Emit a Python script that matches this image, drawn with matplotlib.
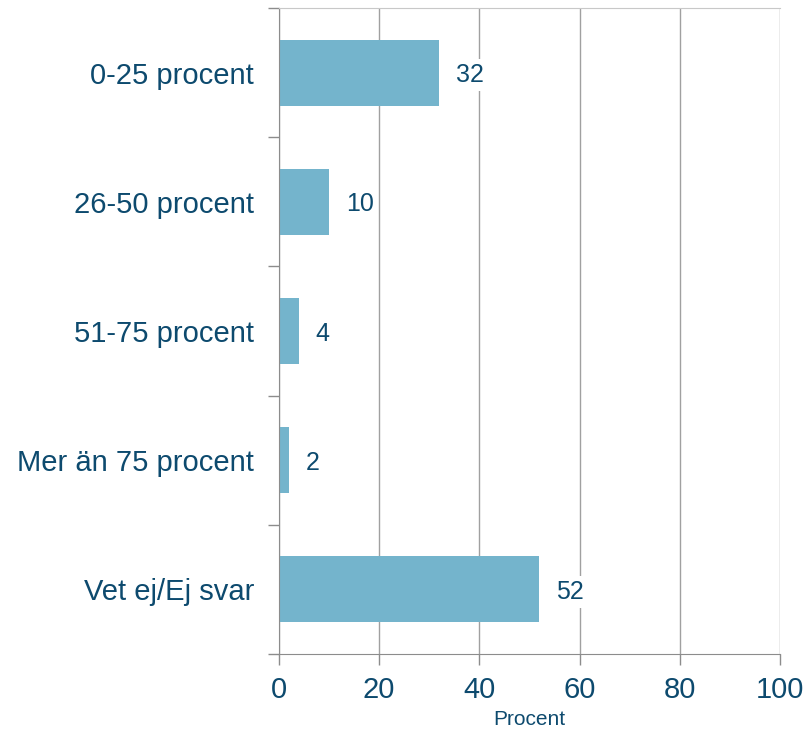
import numpy as np
import matplotlib
matplotlib.use("Agg")
import matplotlib.pyplot as plt

# answer categories and share of respondents (percent)
categories = ["0-25 procent", "26-50 procent", "51-75 procent",
              "Mer än 75 procent", "Vet ej/Ej svar"]
values = [32, 10, 4, 2, 52]
xticks = [0, 20, 40, 60, 80, 100]

text_color = "#0d4a6e"
bar_color = "#74b4cc"
line_color = "#8c8c8c"

plt.rcParams["font.family"] = ["Liberation Sans", "DejaVu Sans"]

fig = plt.figure(figsize=(8.07, 7.34), dpi=100)
ax = fig.add_axes([0.3457, 0.109, 0.6208, 0.880])

y = np.arange(len(categories))
ax.barh(y, values, height=0.51, color=bar_color, zorder=2)

for yi, v in zip(y, values):
    ax.annotate(str(v), (v, yi), xytext=(12, 0), textcoords="offset points",
                va="center_baseline", ha="left", fontsize=18, color=text_color,
                bbox=dict(boxstyle="square,pad=0.15", fc="white", ec="none"),
                zorder=3)

ax.set_xlim(0, 100)
ax.set_ylim(len(categories) - 0.5, -0.5)
ax.set_xticks(xticks)
ax.set_yticks(y)
ax.set_yticklabels(categories)
ax.set_yticks(np.arange(len(categories) + 1) - 0.5, minor=True)

ax.tick_params(axis="y", which="major", length=0, pad=18,
               labelsize=21, labelcolor=text_color)
ax.tick_params(axis="y", which="minor", length=8, color=line_color, width=1)
ax.tick_params(axis="x", length=8, color=line_color, width=1, pad=8,
               labelsize=21, labelcolor=text_color)

ax.grid(axis="x", color="#a0a0a0", linewidth=1, zorder=0)
ax.set_axisbelow(True)

for side in ["left", "bottom"]:
    ax.spines[side].set_color(line_color)
ax.spines["top"].set_color("#c8c8c8")
ax.spines["right"].set_visible(False)

ax.set_xlabel("Procent", fontsize=15, color=text_color, labelpad=4)

fig.savefig("out.png", dpi=100)
